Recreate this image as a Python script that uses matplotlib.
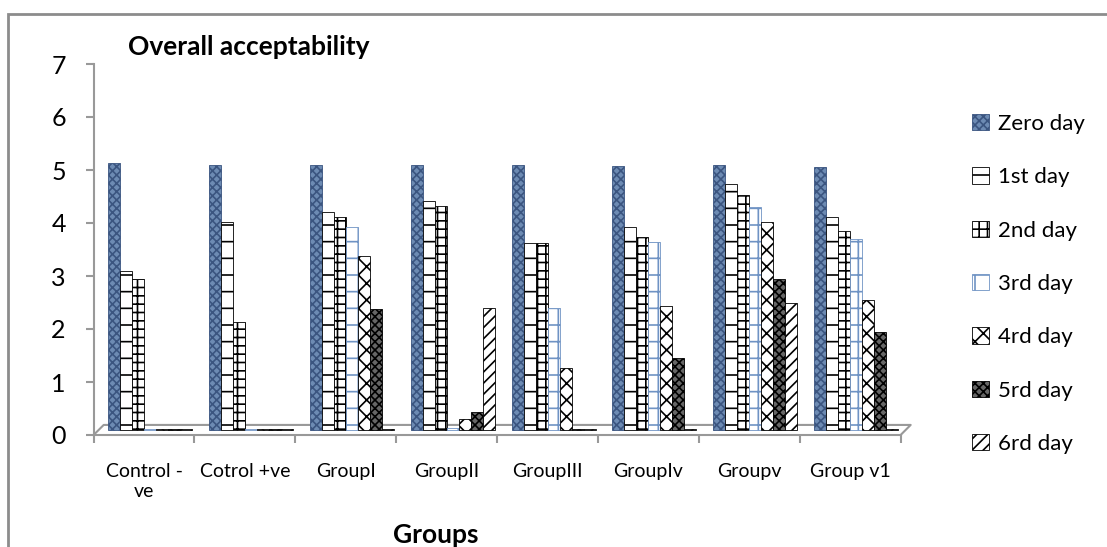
import numpy as np
import matplotlib.pyplot as plt
from matplotlib.patches import Rectangle

groups = ['Control -\nve', 'Cotrol +ve', 'GroupI', 'GroupII', 'GroupIII', 'GroupIv', 'Groupv', 'Group v1']
days = ['Zero day', '1st day', '2nd day', '3rd day', '4rd day', '5rd day', '6rd day']

zero_day = [5.05, 5.0, 5.0, 5.0, 5.0, 4.98, 5.0, 4.97]
day1 = [3.0, 3.93, 4.12, 4.32, 3.53, 3.83, 4.64, 4.03]
day2 = [2.85, 2.04, 4.02, 4.23, 3.53, 3.64, 4.43, 3.75]
day3 = [0.03, 0.03, 3.83, 0.05, 2.3, 3.56, 4.22, 3.6]
day4 = [0.03, 0.03, 3.28, 0.22, 1.17, 2.35, 3.93, 2.45]
day5 = [0.03, 0.03, 2.28, 0.35, 0.03, 1.37, 2.85, 1.85]
day6 = [0.03, 0.03, 0.03, 2.3, 0.03, 0.03, 2.4, 0.03]

series = [zero_day, day1, day2, day3, day4, day5, day6]

# look of each series: face, hatch colour, hatch
styles = [
    ('#6d8bb3', '#3b5580', 'xxxx'),
    ('white', 'black', '-'),
    ('white', 'black', '++'),
    ('white', '#6f93c4', '+'),
    ('white', 'black', 'XX'),
    ('#666666', 'black', 'xxxx'),
    ('white', 'black', '///'),
]

plt.rcParams['font.family'] = ['Lato', 'DejaVu Sans']
plt.rcParams['hatch.linewidth'] = 1.2

fig = plt.figure(figsize=(11.07, 5.47), dpi=100)
ax = fig.add_axes([93.6 / 1107, 1 - 435 / 547, 807 / 1107, 371 / 547])

x = np.arange(len(groups))
w = 0.119
depth = 0.09
for i, (vals, (fc, hc, h)) in enumerate(zip(series, styles)):
    pos = x + 0.06 + (i - 3) * w
    ax.bar(pos, vals, w, bottom=depth, color=fc, edgecolor=hc, hatch=h,
           linewidth=0.6, label=days[i], zorder=3)

# 3d floor outline
ax.plot([-0.5, -0.4, 7.6, 7.5], [0, 0.19, 0.19, 0], color='#999999', lw=1.5,
        clip_on=False, zorder=1)

ax.set_xlim(-0.5, 7.5)
ax.set_ylim(0, 7)
ax.set_yticks(range(8))
ax.tick_params(axis='y', labelsize=18, length=6, width=1.5, color='#999999', pad=14)

ax.set_xticks(np.arange(len(groups) + 1) - 0.5)
ax.set_xticklabels([])
ax.set_xticks(x, minor=True)
ax.set_xticklabels(groups, minor=True, fontsize=14)
ax.tick_params(axis='x', which='major', length=6, width=1.5, color='#999999')
ax.tick_params(axis='x', which='minor', length=0, pad=20)

for s in ['top', 'right']:
    ax.spines[s].set_visible(False)
for s in ['left', 'bottom']:
    ax.spines[s].set_color('#999999')
    ax.spines[s].set_linewidth(1.5)

fig.text(128 / 1107, 1 - 47 / 547, 'Overall acceptability', fontsize=19,
         fontweight='bold', ha='left', va='center')
fig.text(436 / 1107, 1 - 535 / 547, 'Groups', fontsize=19, fontweight='bold',
         ha='center', va='center')

fig.legend(loc='upper left', bbox_to_anchor=(972 / 1107, 1 - 114 / 547),
           frameon=False, fontsize=16, handlelength=0.75, handleheight=0.75,
           handletextpad=0.4, labelspacing=1.5, borderpad=0, borderaxespad=0)

# outer chart frame
fig.patches.append(Rectangle((8 / 1107, -0.1), 1.2, 1 - 14 / 547 + 0.1,
                             transform=fig.transFigure, fill=False,
                             edgecolor='#8c8c8c', lw=2))

fig.savefig('out.png', dpi=100)
